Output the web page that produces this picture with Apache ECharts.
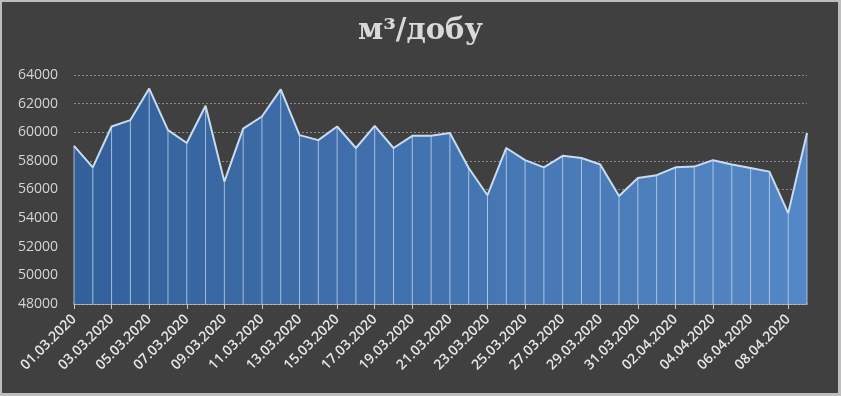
<!DOCTYPE html>
<html>
<head>
<meta charset="utf-8">
<script src="https://cdn.jsdelivr.net/npm/echarts@6/dist/echarts.min.js"></script>
<style>
html,body{margin:0;padding:0;background:#d0d0d0;}
#wrap{position:absolute;left:0;top:0;width:841px;height:396px;box-sizing:border-box;border:2px solid #bdbdbd;border-bottom-width:3px;border-right-width:3px;background:#404040;}
#chart{position:absolute;left:-2px;top:-2px;width:841px;height:396px;}
</style>
</head>
<body>
<div id="wrap"><div id="chart"></div></div>
<script>
const titleText = 'м³/добу';
const categories = [
  '01.03.2020','02.03.2020','03.03.2020','04.03.2020','05.03.2020','06.03.2020','07.03.2020','08.03.2020',
  '09.03.2020','10.03.2020','11.03.2020','12.03.2020','13.03.2020','14.03.2020','15.03.2020','16.03.2020',
  '17.03.2020','18.03.2020','19.03.2020','20.03.2020','21.03.2020','22.03.2020','23.03.2020','24.03.2020',
  '25.03.2020','26.03.2020','27.03.2020','28.03.2020','29.03.2020','30.03.2020','31.03.2020','01.04.2020',
  '02.04.2020','03.04.2020','04.04.2020','05.04.2020','06.04.2020','07.04.2020','08.04.2020','09.04.2020'
];
const values = [
  59050, 57550, 60400, 60850, 63050, 60150, 59250, 61850,
  56550, 60250, 61100, 63000, 59800, 59450, 60400, 58900,
  60450, 58900, 59750, 59750, 59950, 57500, 55600, 58900,
  58050, 57550, 58350, 58200, 57750, 55550, 56800, 57000,
  57550, 57600, 58050, 57750, 57500, 57250, 54350, 59950
];
const yMin = 48000, yMax = 64000, yStep = 2000;

const chart = echarts.init(document.getElementById('chart'), null, {renderer:'canvas'});
chart.setOption({
  backgroundColor: 'transparent',
  animation: false,
  title: {
    text: titleText, left: 'center', top: 12,
    textStyle: {fontFamily: 'DejaVu Serif', fontWeight: 'bold', fontSize: 29, color: '#d9d9d9'}
  },
  grid: {left: 74, right: 34, top: 75, bottom: 92, outerBoundsMode: 'none'},
  xAxis: {
    type: 'category', data: categories, boundaryGap: false,
    axisLine: {lineStyle: {color: '#c8c8c8', width: 1.5}},
    axisTick: {show: true, interval: 1, length: 5, lineStyle: {color: '#c8c8c8'}},
    axisLabel: {interval: 1, rotate: 45, margin: 13, color: '#e6e6e6', fontFamily: 'Open Sans', fontWeight: 600, fontSize: 14}
  },
  yAxis: {
    type: 'value', min: yMin, max: yMax, interval: yStep,
    axisLine: {show: false}, axisTick: {show: false},
    axisLabel: {color: '#d4d4d4', fontFamily: 'Open Sans', fontSize: 14, margin: 16, formatter: v => String(v)},
    splitLine: {lineStyle: {color: '#8a8a8a', type: [2, 2], width: 1}}
  },
  series: [
    {
      type: 'line', data: values, symbol: 'none', z: 2,
      lineStyle: {color: '#c9dbf2', width: 2},
      areaStyle: {
        opacity: 1,
        color: new echarts.graphic.LinearGradient(0, 0, 1, 0, [
          {offset: 0, color: '#33609a'},
          {offset: 1, color: '#5487c5'}
        ])
      }
    },
    {
      type: 'custom', z: 3, silent: true,
      data: values.map((v, i) => [i, v]),
      renderItem: function (params, api) {
        const top = api.coord([api.value(0), api.value(1)]);
        const bot = api.coord([api.value(0), yMin]);
        return {
          type: 'line',
          shape: {x1: top[0], y1: top[1], x2: bot[0], y2: bot[1]},
          style: {stroke: 'rgba(200,220,245,0.75)', lineWidth: 1}
        };
      }
    }
  ]
});
</script>
</body>
</html>
